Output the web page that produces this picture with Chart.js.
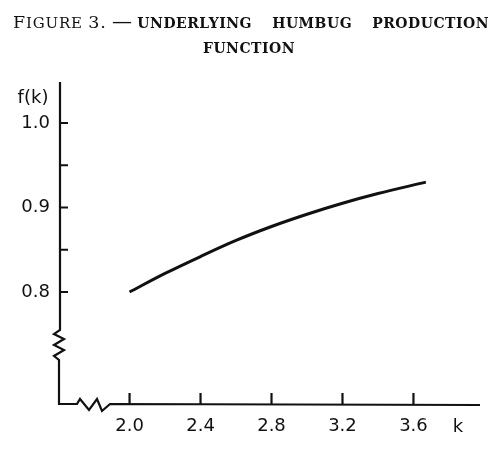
<!DOCTYPE html>
<html lang="en">
<head>
  <meta charset="UTF-8" />
  <title>Figure 3 - Underlying humbug production function</title>
  <script src="https://cdn.jsdelivr.net/npm/chart.js"></script>
  <style>
    body { margin: 0; background: #fff; }
    #wrap { position: relative; width: 502px; height: 458px; }
    #title {
      position: absolute; left: 13px; top: 1px; width: 476px;
      font-family: 'DejaVu Serif', serif; color: #111;
      font-size: 14px; font-weight: bold; letter-spacing: 0.5px;
    }
    #title .l1 { display: flex; justify-content: space-between; align-items: baseline; height: 30px; line-height: 40px; }
    #title .l2 { text-align: center; line-height: 34px; margin-left: -4px; }
    #title .fig { font-weight: normal; font-size: 15px; letter-spacing: 0.8px; }
    #title .cap { font-size: 17.5px; }
    #title .dash { font-weight: normal; font-size: 20px; letter-spacing: 0; }
    #wrap canvas { position: absolute; left: 0; top: 0; }
  </style>
</head>
<body>
  <div id="wrap">
    <canvas id="humbugChart" width="502" height="458"></canvas>
    <div id="title">
      <div class="l1">
        <span><span class="fig"><span class="cap">F</span>IGURE <span class="cap">3.</span></span> <span class="dash">—</span> UNDERLYING</span>
        <span>HUMBUG</span>
        <span>PRODUCTION</span>
      </div>
      <div class="l2">FUNCTION</div>
    </div>
  </div>

  <script>
    // values
    const kValues = [2.0, 2.2, 2.4, 2.6, 2.8, 3.0, 3.2, 3.4, 3.67];
    const fValues = [0.800, 0.822, 0.842, 0.861, 0.8775, 0.892, 0.905, 0.9165, 0.930];
    const xTicks = [2.0, 2.4, 2.8, 3.2, 3.6];
    const yTicks = [0.8, 0.9, 1.0];
    const yMinorTicks = [0.85, 0.95];

    const ink = '#111';
    const tickFont = { family: "'DejaVu Sans', sans-serif", size: 18 };

    // axes drawn by hand: inward ticks and the zigzag breaks
    const handAxes = {
      id: 'handAxes',
      afterDraw(chart) {
        const { ctx, chartArea: a, scales: { x, y } } = chart;
        ctx.save();
        ctx.strokeStyle = ink;
        ctx.lineWidth = 2.2;
        ctx.lineJoin = 'miter';

        // y axis with break
        const yb = a.bottom - 74;
        ctx.beginPath();
        ctx.moveTo(a.left, a.top);
        ctx.lineTo(a.left, yb);
        ctx.lineTo(a.left - 6, yb + 4);
        ctx.lineTo(a.left + 4, yb + 9);
        ctx.lineTo(a.left - 6, yb + 15);
        ctx.lineTo(a.left + 4, yb + 20);
        ctx.lineTo(a.left - 6, yb + 26);
        ctx.lineTo(a.left - 1, yb + 30);
        ctx.lineTo(a.left - 1, a.bottom);
        // x axis with break
        const xb = a.left + 17;
        ctx.lineTo(xb, a.bottom);
        ctx.lineTo(xb + 3, a.bottom - 5);
        ctx.lineTo(xb + 12, a.bottom + 6);
        ctx.lineTo(xb + 20, a.bottom - 5);
        ctx.lineTo(xb + 25, a.bottom + 7);
        ctx.lineTo(xb + 33, a.bottom);
        ctx.lineTo(a.right, a.bottom + 1);
        ctx.stroke();

        // inward tick marks
        ctx.beginPath();
        yTicks.concat(yMinorTicks).forEach(v => {
          const py = y.getPixelForValue(v);
          ctx.moveTo(a.left, py);
          ctx.lineTo(a.left + 8, py);
        });
        xTicks.forEach(v => {
          const px = x.getPixelForValue(v);
          ctx.moveTo(px, a.bottom);
          ctx.lineTo(px, a.bottom - 11);
        });
        ctx.stroke();

        // axis names
        ctx.fillStyle = ink;
        ctx.font = "18px 'DejaVu Sans', sans-serif";
        ctx.textAlign = 'center';
        ctx.textBaseline = 'middle';
        ctx.fillText('f(k)', a.left - 27, a.top + 16);
        ctx.fillText('k', a.right - 22, a.bottom + 23);
        ctx.restore();
      }
    };

    new Chart(document.getElementById('humbugChart'), {
      type: 'line',
      data: {
        datasets: [{
          data: kValues.map((k, i) => ({ x: k, y: fValues[i] })),
          borderColor: ink,
          borderWidth: 3,
          pointRadius: 0,
          cubicInterpolationMode: 'monotone',
          fill: false
        }]
      },
      options: {
        responsive: false,
        animation: false,
        layout: { padding: { top: 82, right: 22, left: 0, bottom: 0 } },
        plugins: { legend: { display: false }, tooltip: { enabled: false } },
        scales: {
          x: {
            type: 'linear',
            min: 1.608,
            max: 3.975,
            grid: { display: false, drawTicks: false },
            border: { display: false },
            afterBuildTicks: s => { s.ticks = xTicks.map(v => ({ value: v })); },
            afterFit: s => { s.height = 54; },
            ticks: {
              font: tickFont, color: ink, padding: 12,
              maxRotation: 0, autoSkip: false,
              callback: v => v.toFixed(1)
            }
          },
          y: {
            type: 'linear',
            min: 0.6675,
            max: 1.0485,
            grid: { display: false, drawTicks: false },
            border: { display: false },
            afterBuildTicks: s => { s.ticks = yTicks.map(v => ({ value: v })); },
            afterFit: s => { s.width = 60; },
            ticks: {
              font: tickFont, color: ink, padding: 10,
              autoSkip: false,
              callback: v => v.toFixed(1)
            }
          }
        }
      },
      plugins: [handAxes]
    });
  </script>
</body>
</html>
